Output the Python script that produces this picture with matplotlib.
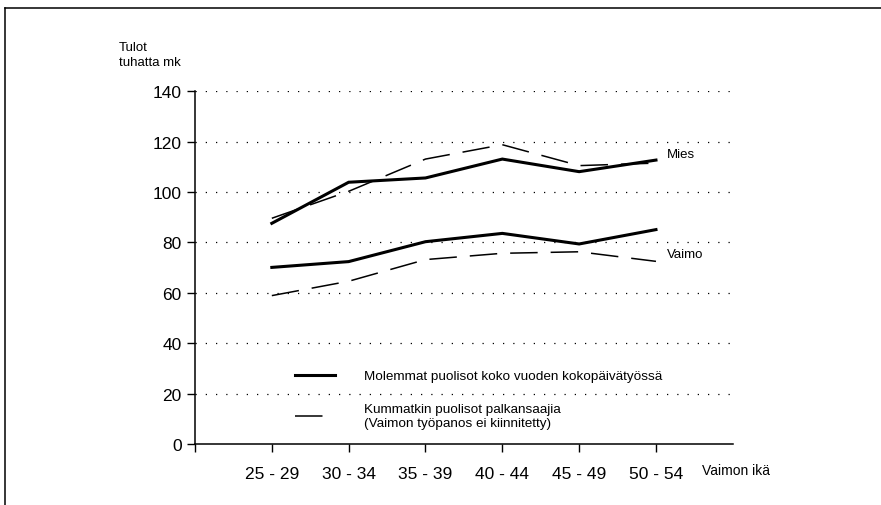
import numpy as np
import matplotlib.pyplot as plt
from matplotlib.lines import Line2D

plt.rcParams['font.family'] = ['Liberation Sans', 'DejaVu Sans']

# wife's age group
age_groups = ['25 - 29', '30 - 34', '35 - 39', '40 - 44', '45 - 49', '50 - 54']

# incomes, thousand mk
mies_full = [87.6, 103.9, 105.6, 113.1, 108.1, 112.7]
vaimo_full = [70.1, 72.4, 80.3, 83.6, 79.4, 85.1]
mies_all = [89.6, 100.3, 113.1, 118.8, 110.5, 111.5]
vaimo_all = [58.9, 64.6, 73.2, 75.7, 76.3, 72.5]

yticks = [0, 20, 40, 60, 80, 100, 120, 140]

x = np.arange(1, len(age_groups) + 1)

fig = plt.figure(figsize=(8.81, 5.06), dpi=100)
ax = fig.add_axes([195 / 881, 61 / 506, 537.8 / 881, 352.7 / 506])

solid_kw = dict(color='black', lw=2.2, solid_joinstyle='miter')
dash_kw = dict(color='black', lw=1.1, dashes=(18, 8.5))

l_full, = ax.plot(x, mies_full, **solid_kw)
ax.plot(x, vaimo_full, **solid_kw)
l_all, = ax.plot(x, mies_all, **dash_kw)
ax.plot(x, vaimo_all, **dash_kw)

ax.set_xlim(0, 7)
ax.set_ylim(0, 140)

# dotted horizontal guides
for v in yticks[1:]:
    ax.axhline(v, color='black', lw=0.9, ls=(0, (1, 7.2)), zorder=0)

for s in ['top', 'right']:
    ax.spines[s].set_visible(False)
for s in ['left', 'bottom']:
    ax.spines[s].set_linewidth(1.1)

ax.set_yticks(yticks)
ax.set_xticks(np.arange(0, 7))
ax.set_xticklabels([''] + age_groups)
ax.tick_params(axis='y', direction='out', length=5.5, width=1, pad=4, labelsize=12.5)
ax.tick_params(axis='x', direction='out', length=5.5, width=1, pad=10, labelsize=12.5)

ax.annotate('Mies', xy=(x[-1], mies_full[-1]), xytext=(8, 4.3),
            textcoords='offset points', fontsize=9.5, va='center', ha='left')
ax.annotate('Vaimo', xy=(x[-1], vaimo_full[-1]), xytext=(8, -17.5),
            textcoords='offset points', fontsize=9.5, va='center', ha='left')

ax.legend([l_full, l_all],
          ['Molemmat puolisot koko vuoden kokopäivätyössä',
           'Kummatkin puolisot palkansaajia\n(Vaimon työpanos ei kiinnitetty)'],
          loc='upper left', bbox_to_anchor=(0.186, 0.210), frameon=False,
          fontsize=9.7, handlelength=3.0, handletextpad=2.1, labelspacing=1.55,
          borderpad=0, borderaxespad=0)

fig.text(119 / 881, 1 - 42 / 506, 'Tulot\ntuhatta mk', fontsize=9.5,
         va='top', ha='left', linespacing=1.35)
fig.text(702 / 881, 35 / 506, 'Vaimon ikä', fontsize=10, va='center', ha='left')

# page frame
fig.add_artist(Line2D([5 / 881, 1], [1 - 9 / 506, 1 - 9 / 506],
                      transform=fig.transFigure, color='black', lw=1.1))
fig.add_artist(Line2D([5 / 881, 5 / 881], [0, 1 - 9 / 506],
                      transform=fig.transFigure, color='black', lw=1.1))

fig.savefig('out.png', dpi=100)
